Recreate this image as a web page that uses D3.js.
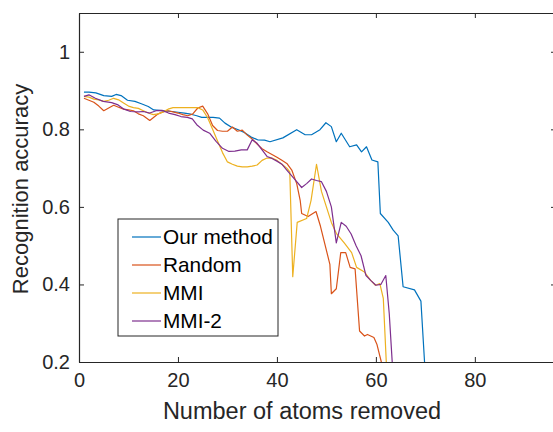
<!DOCTYPE html>
<html>
<head>
<meta charset="utf-8">
<script src="https://cdn.jsdelivr.net/npm/d3@7"></script>
<style>
  body { margin: 0; background: #fff; }
  svg { display: block; font-family: "Liberation Sans", Arial, sans-serif; }
  .axis path, .axis line { stroke: #262626; }
  .axis text { fill: #262626; font-size: 20px; font-family: "Liberation Sans", Arial, sans-serif; }
  .series { fill: none; stroke-width: 1.2; stroke-linejoin: round; }
</style>
</head>
<body>
<script>
// values
const ourX = [1,2,3.4,5,6.6,7.5,8.5,9.8,11.3,12.6,14,15.1,16.8,18.8,20,21.3,22.6,23.8,24.8,27.1,28.4,29.5,30.9,32.2,33.4,34.8,36.1,37.5,38.6,41.2,44,45.7,47,48.7,49.9,51,52,53,54.7,56.1,57.1,58.1,59.2,60.4,60.9,62.5,63.5,64.5,65.5,67.8,69.1,70.3];
const ourY = [0.896,0.896,0.894,0.887,0.885,0.890,0.887,0.875,0.872,0.866,0.859,0.850,0.848,0.846,0.844,0.842,0.839,0.835,0.831,0.831,0.829,0.816,0.805,0.799,0.792,0.780,0.773,0.772,0.768,0.778,0.799,0.786,0.786,0.799,0.817,0.807,0.768,0.790,0.755,0.760,0.742,0.755,0.721,0.716,0.583,0.560,0.540,0.525,0.394,0.386,0.357,0.10];

const randX = [1,2,3,4,5,6,7,8,9,10,11,12,13,14.3,15,16,17,18,19,20,21,22,23,24,25,26,27,28,29,30,31,32,33,34,35,36,37,38,39,40,41,42,43,44,44.7,45,46.3,47.9,48.8,50.7,51,52,52.9,53.9,54.8,55.8,56.7,57.7,58.3,59.6,60.2,61.1,61.5];
const randY = [0.88,0.875,0.87,0.86,0.848,0.855,0.862,0.857,0.852,0.85,0.848,0.84,0.835,0.823,0.83,0.84,0.845,0.848,0.845,0.842,0.838,0.835,0.84,0.855,0.86,0.84,0.81,0.797,0.795,0.795,0.806,0.795,0.798,0.785,0.775,0.762,0.75,0.742,0.735,0.728,0.72,0.712,0.695,0.66,0.617,0.583,0.575,0.588,0.55,0.452,0.376,0.389,0.482,0.482,0.444,0.44,0.28,0.267,0.271,0.263,0.246,0.2,0.15];

const mmiX = [1,2,3,4,5,6,7,8,9,10,11,12,13,14,15,16,17,18,19,20,21,22,23,24,25,26,27,28,29,30,31,32,33,34,35,36,37,38,39,40,41,42,42.6,43.2,44.1,46,46.9,48,49,50,51,52,53.6,55.1,56.1,57.7,58.9,59.9,60.8,61.5,62.1,62.3];
const mmiY = [0.885,0.883,0.878,0.876,0.872,0.875,0.88,0.876,0.868,0.86,0.856,0.854,0.848,0.842,0.838,0.84,0.845,0.852,0.856,0.856,0.856,0.856,0.856,0.856,0.85,0.83,0.80,0.77,0.74,0.716,0.71,0.705,0.703,0.703,0.705,0.708,0.72,0.726,0.726,0.72,0.71,0.70,0.69,0.42,0.56,0.57,0.617,0.71,0.64,0.60,0.56,0.532,0.507,0.482,0.444,0.432,0.411,0.398,0.402,0.364,0.2,0.15];

const mmi2X = [1,2,3.3,4.9,6.6,7.9,9.1,10.4,12,13,14.3,15.6,16.8,18.1,19.4,20.6,21.9,22.9,23.8,25.1,26.4,27.7,29,30.3,31.5,32.8,34,35,36,37,38,39,40,41,42,43,44,45,46,47,48,49,50,51,52,53,54,55,56,57,58,59,60,61,62,62.7,63.3,63.5];
const mmi2Y = [0.885,0.889,0.880,0.872,0.869,0.863,0.852,0.846,0.845,0.846,0.842,0.848,0.849,0.842,0.838,0.833,0.831,0.827,0.812,0.798,0.790,0.769,0.751,0.743,0.744,0.747,0.747,0.773,0.764,0.747,0.73,0.725,0.718,0.71,0.695,0.68,0.665,0.65,0.66,0.672,0.668,0.665,0.64,0.6,0.507,0.56,0.55,0.53,0.50,0.474,0.423,0.41,0.398,0.40,0.423,0.325,0.2,0.15];

const seriesNames = ['Our method', 'Random', 'MMI', 'MMI-2'];
const colors = ['#0072BD', '#D95319', '#EDB120', '#7E2F8E'];
const xTicks = [0, 20, 40, 60, 80];
const yTicks = [0.2, 0.4, 0.6, 0.8, 1];

const W = 553, H = 432;
const mLeft = 79, mRight = 556, mTop = 13, mBottom = 362;

const svg = d3.select('body').append('svg')
  .attr('width', W).attr('height', H);

const x = d3.scaleLinear().domain([0, 96.4]).range([mLeft, mRight]);
const y = d3.scaleLinear().domain([0.2, 1.1]).range([mBottom, mTop]);

svg.append('clipPath').attr('id', 'plot')
  .append('rect')
    .attr('x', mLeft).attr('y', mTop)
    .attr('width', mRight - mLeft).attr('height', mBottom - mTop);

// lines
const series = [[ourX, ourY], [randX, randY], [mmiX, mmiY], [mmi2X, mmi2Y]];
const line = d3.line().x(d => x(d[0])).y(d => y(d[1]));

series.forEach((s, i) => {
  svg.append('path')
    .attr('class', 'series')
    .attr('clip-path', 'url(#plot)')
    .attr('stroke', colors[i])
    .attr('d', line(d3.zip(s[0], s[1])));
});

// axes box, ticks pointing inward
svg.append('g').attr('class', 'axis')
  .attr('transform', `translate(0,${mBottom})`)
  .call(d3.axisBottom(x).tickValues(xTicks).tickSizeInner(-5).tickSizeOuter(0).tickPadding(11));

svg.append('g').attr('class', 'axis')
  .attr('transform', `translate(${mLeft},0)`)
  .call(d3.axisLeft(y).tickValues(yTicks).tickFormat(d3.format('~g')).tickSizeInner(-5).tickSizeOuter(0).tickPadding(9));

svg.append('g').attr('class', 'axis')
  .attr('transform', `translate(0,${mTop})`)
  .call(d3.axisTop(x).tickValues(xTicks).tickFormat('').tickSizeInner(-5).tickSizeOuter(0));

svg.append('g').attr('class', 'axis')
  .attr('transform', `translate(${mRight},0)`)
  .call(d3.axisRight(y).tickValues(yTicks).tickFormat('').tickSizeInner(-5).tickSizeOuter(0));

svg.selectAll('.axis path.domain').attr('stroke-width', 1.2);

// axis labels
svg.append('text')
  .attr('x', 302).attr('y', 419)
  .attr('text-anchor', 'middle')
  .attr('font-size', 23.5).attr('fill', '#262626')
  .text('Number of atoms removed');

svg.append('text')
  .attr('transform', 'translate(28,189) rotate(-90)')
  .attr('text-anchor', 'middle')
  .attr('font-size', 22).attr('fill', '#262626')
  .text('Recognition accuracy');

// legend
const lg = svg.append('g');
lg.append('rect')
  .attr('x', 118).attr('y', 219).attr('width', 160).attr('height', 117)
  .attr('fill', '#fff').attr('stroke', '#262626').attr('stroke-width', 1);

const rowY = [237, 265, 293, 321];
seriesNames.forEach((name, i) => {
  lg.append('line')
    .attr('x1', 132).attr('x2', 161)
    .attr('y1', rowY[i]).attr('y2', rowY[i])
    .attr('stroke', colors[i]).attr('stroke-width', 1.2);
  lg.append('text')
    .attr('x', 163).attr('y', rowY[i]).attr('dy', '0.35em')
    .attr('font-size', 20.8).attr('fill', '#000')
    .text(name);
});
</script>
</body>
</html>
